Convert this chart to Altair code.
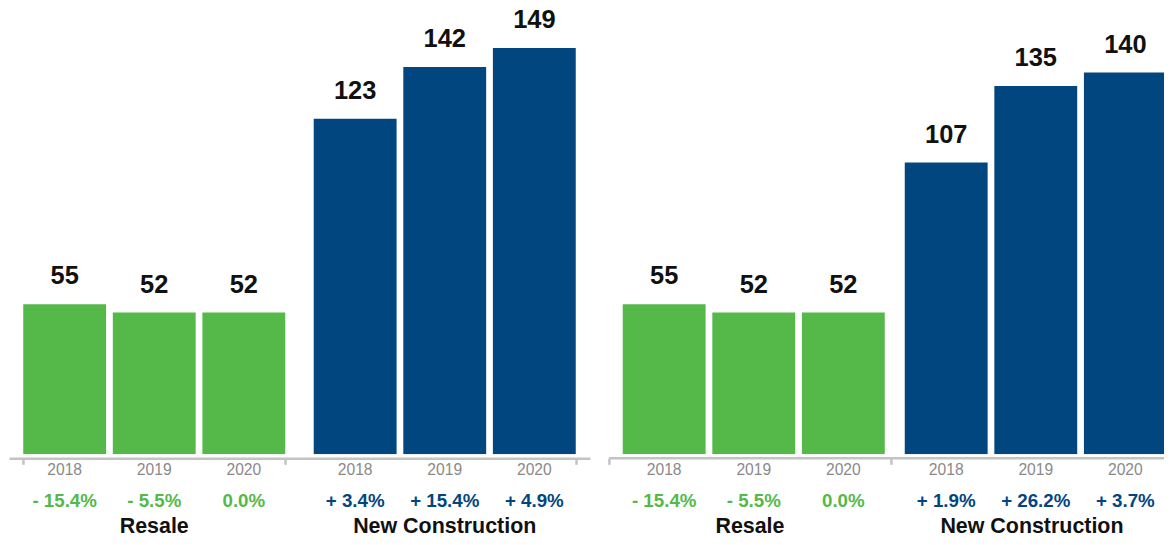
import altair as alt
import pandas as pd

# ---- data ----
years = ["2018", "2019", "2020"]
groups = ["Resale", "New Construction"]

left_resale = [55, 52, 52]
left_new = [123, 142, 149]
left_resale_chg = ["- 15.4%", "- 5.5%", "0.0%"]
left_new_chg = ["+ 3.4%", "+ 15.4%", "+ 4.9%"]

right_resale = [55, 52, 52]
right_new = [107, 135, 140]
right_resale_chg = ["- 15.4%", "- 5.5%", "0.0%"]
right_new_chg = ["+ 1.9%", "+ 26.2%", "+ 3.7%"]

GREEN = "#54b948"
BLUE = "#02467f"
AXIS_GRAY = "#c3c3c3"
FONT = "Liberation Sans"

H = 438          # plot height (px)
YMAX = 160
P_IN = 0.098
TOP_ANCHOR = 30      # invisible layout anchor above the plot
BOTTOM_ANCHOR = 100  # invisible layout anchor below the plot


def make_df(resale, new, resale_chg, new_chg):
    rows = []
    for g, vals, chg in ((groups[0], resale, resale_chg), (groups[1], new, new_chg)):
        for y, v, c in zip(years, vals, chg):
            rows.append({"group": g, "year": y, "value": v, "chg": c})
    return pd.DataFrame(rows)


def panel(df, width, full_width, cut, anchor=False):
    step = full_width / 2.0
    scale_kw = dict(domain=groups, paddingInner=P_IN, paddingOuter=P_IN / 2)
    if cut:
        scale_kw["range"] = [0, full_width]
        axis = alt.Axis(
            title=None, labels=False, domain=False, grid=False,
            tickColor=AXIS_GRAY, tickWidth=2.5, tickSize=6,
            bandPosition=0, tickOffset=-(P_IN * step / 2), tickExtra=False,
            offset=4,
        )
    else:
        axis = alt.Axis(
            title=None, labels=False, grid=False,
            domainColor=AXIS_GRAY, domainWidth=2.5,
            tickColor=AXIS_GRAY, tickWidth=2.5, tickSize=6,
            tickBand="extent", offset=4,
        )
    x = alt.X("group:N", sort=groups, scale=alt.Scale(**scale_kw), axis=axis)
    xo = alt.XOffset("year:N", sort=years, scale=alt.Scale(paddingInner=0.075, paddingOuter=0))
    y = alt.Y("value:Q", scale=alt.Scale(domain=[0, YMAX]), axis=None)
    color = alt.Color("group:N", scale=alt.Scale(domain=groups, range=[GREEN, BLUE]), legend=None)

    base = alt.Chart(df)
    bars = base.mark_bar(clip=True).encode(x=x, xOffset=xo, y=y, color=color)
    vals = base.mark_text(
        font=FONT, fontSize=25.5, fontWeight="bold", baseline="alphabetic", dy=-20, color="#111111"
    ).encode(x=x, xOffset=xo, y=y, text="value:Q")
    yrs = base.mark_text(
        font=FONT, fontSize=15.7, baseline="alphabetic", color="#8a8a8a"
    ).encode(x=x, xOffset=xo, y=alt.value(H + 21), text="year:N")
    chg = base.mark_text(
        font=FONT, fontSize=18.8, fontWeight="bold", baseline="alphabetic"
    ).encode(x=x, xOffset=xo, y=alt.value(H + 53), text="chg:N", color=color)
    names = alt.Chart(pd.DataFrame({"group": groups})).mark_text(
        font=FONT, fontSize=21.5, fontWeight="bold", baseline="alphabetic", color="#111111"
    ).encode(x=x, y=alt.value(H + 79), text="group:N")

    layers = [bars, vals, yrs, chg, names]
    if cut:
        baseline = alt.Chart(pd.DataFrame({"group": groups[:1]})).mark_rule(
            color=AXIS_GRAY, strokeWidth=2.5
        ).encode(x=alt.value(0), x2=alt.value(width), y=alt.value(H + 4))
        layers.append(baseline)
    if anchor:
        # transparent rectangle that fixes the layout's vertical extent
        box = alt.Chart(pd.DataFrame({"group": groups[:1]})).mark_rect(opacity=0).encode(
            x=alt.value(0), x2=alt.value(1),
            y=alt.value(-TOP_ANCHOR), y2=alt.value(H + BOTTOM_ANCHOR),
        )
        layers.append(box)
    return alt.layer(*layers).properties(width=width, height=H)


left = panel(make_df(left_resale, left_new, left_resale_chg, left_new_chg), 583, 583, False, anchor=True)
right = panel(make_df(right_resale, right_new, right_resale_chg, right_new_chg), 558, 566, True)

chart = (
    alt.hconcat(left, right, spacing=19, bounds="flush")
    .properties(padding={"left": 1, "top": -21, "right": -9, "bottom": -20})
    .configure_view(stroke=None)
)

chart.save("out.html", embed_options={"renderer": "svg", "actions": False})
